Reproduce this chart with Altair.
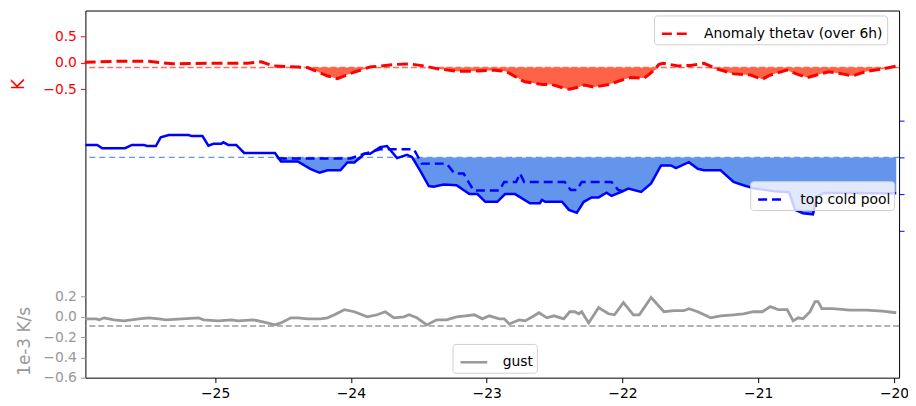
import altair as alt
import pandas as pd

FONT = "DejaVu Sans"
FS = 14
TFS = 17

# ---------------- data ----------------
# Anomaly thetav (over 6h), K
red_x = [-25.96, -25.71, -25.49, -25.39, -25.31, -25.05, -24.76, -24.66, -24.57, -24.39,
         -24.32, -24.17, -24.10, -23.99, -23.86, -23.66, -23.57, -23.46, -23.37, -23.22,
         -23.13, -22.94, -22.86, -22.72, -22.59, -22.52, -22.43, -22.39, -22.32, -22.28,
         -22.21, -22.10, -22.01, -21.94, -21.84, -21.79, -21.73, -21.70, -21.59, -21.50,
         -21.40, -21.30, -21.18, -21.06, -20.97, -20.91, -20.79, -20.72, -20.64, -20.57,
         -20.48, -20.38, -20.31, -20.20, -20.09, -19.98]
red_v = [0.01, 0.03, 0.03, 0.00, -0.02, -0.01, -0.01, 0.02, -0.06, -0.08,
         -0.09, -0.25, -0.30, -0.19, -0.08, -0.03, -0.02, -0.06, -0.11, -0.16,
         -0.16, -0.14, -0.16, -0.36, -0.41, -0.41, -0.48, -0.50, -0.46, -0.42,
         -0.46, -0.41, -0.33, -0.28, -0.29, -0.19, -0.03, -0.01, -0.06, -0.05,
         -0.01, -0.12, -0.21, -0.23, -0.31, -0.23, -0.14, -0.21, -0.28, -0.23,
         -0.17, -0.21, -0.25, -0.16, -0.12, -0.06]
red_thr = -0.09

# cold pool (solid) and top cold pool (dashed)
blue_x = [-25.955, -25.868, -25.831, -25.663, -25.612, -25.524, -25.502, -25.436, -25.400, -25.341,
          -25.195, -25.173, -25.093, -25.049, -25.012, -24.954, -24.939, -24.903, -24.844, -24.786,
          -24.559, -24.515, -24.391, -24.296, -24.230, -24.172, -24.077, -24.026, -23.974, -23.901,
          -23.858, -23.785, -23.734, -23.660, -23.587, -23.550, -23.492, -23.426, -23.390, -23.317,
          -23.222, -23.127, -23.068, -23.010, -22.922, -22.864, -22.791, -22.681, -22.608, -22.593,
          -22.569, -22.445, -22.394, -22.336, -22.285, -22.227, -22.176, -22.117, -22.081, -22.008,
          -21.957, -21.862, -21.789, -21.716, -21.643, -21.606, -21.511, -21.445, -21.401, -21.277,
          -21.182, -21.109, -21.028, -20.882, -20.773, -20.729, -20.670, -20.597, -20.568, -20.517,
          -20.298, -20.152, -19.984]
blue_v = [0.34, 0.34, 0.25, 0.25, 0.34, 0.34, 0.31, 0.31, 0.55, 0.61,
          0.61, 0.58, 0.58, 0.32, 0.37, 0.37, 0.41, 0.34, 0.34, 0.12,
          0.12, -0.11, -0.11, -0.32, -0.42, -0.35, -0.35, -0.14, -0.14, 0.10,
          0.10, 0.28, 0.31, -0.02, 0.07, 0.01, -0.35, -0.78, -0.80, -0.74,
          -0.76, -1.00, -1.00, -1.21, -1.21, -1.00, -1.00, -1.25, -1.25, -1.16,
          -1.21, -1.21, -1.43, -1.51, -1.21, -1.09, -1.09, -0.96, -1.05, -0.94,
          -0.85, -0.94, -0.71, -0.22, -0.22, -0.29, -0.13, -0.31, -0.35, -0.35,
          -0.67, -0.76, -0.85, -0.92, -0.95, -1.43, -1.52, -1.55, -1.07, -0.97,
          -0.97, -0.98, -0.98]
pool_x = [-24.537, -24.004, -23.901, -23.785, -23.536, -23.478, -23.295, -23.237, -23.170, -23.097,
          -22.907, -22.871, -22.783, -22.754, -22.724, -22.425, -22.381, -22.336, -22.300, -22.081,
          -22.030, -21.979]
pool_v = [-0.03, -0.03, 0.10, 0.22, 0.22, -0.17, -0.17, -0.44, -0.44, -0.90,
          -0.90, -0.67, -0.67, -0.44, -0.67, -0.67, -0.89, -0.89, -0.67, -0.67,
          -0.89, -0.94]
blue_base = 0.0

# gust, 1e-3 K/s
gust_x = [-25.955, -25.875, -25.853, -25.817, -25.744, -25.671, -25.561, -25.488, -25.414, -25.363,
          -25.122, -25.085, -24.976, -24.881, -24.830, -24.720, -24.647, -24.559, -24.515, -24.442,
          -24.391, -24.318, -24.223, -24.172, -24.121, -24.048, -23.974, -23.879, -23.806, -23.747,
          -23.682, -23.609, -23.572, -23.514, -23.441, -23.368, -23.295, -23.222, -23.156, -23.090,
          -23.032, -22.981, -22.907, -22.871, -22.834, -22.761, -22.717, -22.651, -22.615, -22.556,
          -22.505, -22.432, -22.388, -22.351, -22.322, -22.300, -22.249, -22.176, -22.103, -22.059,
          -21.993, -21.920, -21.876, -21.789, -21.694, -21.621, -21.548, -21.511, -21.445, -21.350,
          -21.277, -21.182, -21.109, -21.036, -20.970, -20.911, -20.852, -20.787, -20.743, -20.706,
          -20.670, -20.619, -20.582, -20.560, -20.531, -20.451, -20.327, -20.202, -20.086, -19.984]
gust_v = [-0.02, -0.02, -0.03, -0.01, -0.03, -0.04, -0.02, -0.01, -0.02, -0.03,
          -0.01, -0.03, -0.04, -0.03, -0.04, -0.03, -0.05, -0.08, -0.06, -0.01,
          -0.01, -0.02, -0.02, -0.01, 0.02, 0.07, 0.05, 0.00, 0.02, 0.05,
          -0.01, 0.00, 0.02, -0.01, -0.08, -0.03, -0.03, 0.00, 0.01, 0.02,
          -0.02, 0.01, -0.02, -0.02, -0.07, -0.03, -0.04, 0.01, 0.04, -0.01,
          0.01, -0.02, 0.05, 0.05, 0.03, 0.05, -0.06, 0.09, 0.03, 0.02,
          0.14, 0.02, 0.02, 0.19, 0.05, 0.06, 0.06, 0.08, 0.05, -0.01,
          0.01, 0.02, 0.03, 0.05, 0.05, 0.10, 0.07, 0.07, -0.04, -0.01,
          -0.02, 0.05, 0.15, 0.15, 0.08, 0.08, 0.065, 0.065, 0.055, 0.04]
gust_thr = -0.09

x_ticks = [-25, -24, -23, -22, -21, -20]
red_ticks = [-0.5, 0.0, 0.5]
blue_ticks = [-2, -1, 0, 1]
gray_ticks = [-0.6, -0.4, -0.2, 0.0, 0.2]

red_label = "Anomaly thetav (over 6h)"
pool_label = "top cold pool"
gust_label = "gust"

# ---------------- tables ----------------
red_df = pd.DataFrame({"x": red_x, "v": red_v, "s": red_label})
blue_df = pd.DataFrame({"x": blue_x, "v": blue_v})
pool_df = pd.DataFrame({"x": pool_x, "v": pool_v, "s": pool_label})
gust_df = pd.DataFrame({"x": gust_x, "v": gust_v, "s": gust_label})

xscale = alt.Scale(domain=[-25.955, -19.963], nice=False, zero=False)
X = alt.X("x:Q", scale=xscale,
          axis=alt.Axis(values=x_ticks, format="d", title=None, grid=False, domain=False,
                        tickColor="black", tickSize=5, labelColor="black", labelFont=FONT,
                        labelFontSize=FS, labelPadding=4))

red_scale = alt.Scale(domain=[-5.953, 0.988], nice=False, zero=False)
blue_scale = alt.Scale(domain=[-6, 4], nice=False, zero=False)
gray_scale = alt.Scale(domain=[-0.6, 3.02], nice=False, zero=False)

red_axis = alt.Axis(orient="left", values=red_ticks, format=".1f", grid=False, domain=False,
                    tickColor="red", tickSize=5, labelColor="red", labelFont=FONT,
                    labelFontSize=FS, labelPadding=4, title="K", titleColor="red",
                    titleFont=FONT, titleFontSize=TFS, titleFontWeight="normal",
                    titleAngle=270, titleBaseline="middle", titleX=-67, titleY=74)
blue_axis = alt.Axis(orient="right", values=blue_ticks, grid=False, domain=False,
                     tickColor="blue", tickSize=5, labels=False, title=None)
gray_axis = alt.Axis(orient="left", values=gray_ticks, format=".1f", grid=False, domain=False,
                     tickColor="#999999", tickSize=5, labelColor="#999999", labelFont=FONT,
                     labelFontSize=FS, labelPadding=4, title="1e-3 K/s", titleColor="#999999",
                     titleFont=FONT, titleFontSize=TFS, titleFontWeight="normal",
                     titleAngle=270, titleBaseline="middle", titleX=-61, titleY=333)


def legend(x, y, dash):
    kw = dict(orient="none", legendX=x, legendY=y, title=None, symbolType="stroke",
              symbolSize=729, symbolStrokeWidth=2.5, symbolOffset=3, labelFont=FONT,
              labelFontSize=FS, labelColor="black", labelOffset=14, labelLimit=0,
              fillColor="rgba(255,255,255,0.8)", strokeColor="#d0d0d0", cornerRadius=3,
              padding=3.5, zindex=1)
    if dash:
        kw["symbolDash"] = dash
    return alt.Legend(**kw)


# ---------------- red ----------------
rY = lambda f: alt.Y(f, scale=red_scale, axis=red_axis)
red_thr_df = pd.DataFrame({"t": [red_thr]})
red_rule = alt.Chart(red_thr_df).mark_rule(color="#ff6e5c", strokeWidth=1.5, strokeDash=[6, 3]).encode(y=rY("t:Q"))
red_area = alt.Chart(red_df).transform_calculate(
    lo=f"min(datum.v, {red_thr})", hi=f"{red_thr}"
).mark_area(color="#ff6347", opacity=1).encode(x=X, y=rY("lo:Q"), y2="hi:Q")
red_line = alt.Chart(red_df).mark_line(strokeWidth=3, strokeDash=[11, 5]).encode(
    x=X, y=rY("v:Q"),
    color=alt.Color("s:N", scale=alt.Scale(domain=[red_label], range=["red"]),
                    legend=legend(573, 5, [10, 5])))
red_layer = alt.layer(red_rule, red_area, red_line)

# ---------------- blue ----------------
bY = lambda f: alt.Y(f, scale=blue_scale, axis=blue_axis)
blue_base_df = pd.DataFrame({"t": [blue_base]})
blue_rule = alt.Chart(blue_base_df).mark_rule(color="#6495ed", strokeWidth=1.5, strokeDash=[6, 4]).encode(y=bY("t:Q"))
blue_area = alt.Chart(blue_df).transform_calculate(
    lo=f"min(datum.v, {blue_base})", hi=f"{blue_base}"
).mark_area(color="#6495ed", opacity=1).encode(x=X, y=bY("lo:Q"), y2="hi:Q")
blue_line = alt.Chart(blue_df).mark_line(color="blue", strokeWidth=2.5).encode(x=X, y=bY("v:Q"))
pool_line = alt.Chart(pool_df).mark_line(strokeWidth=2.5, strokeDash=[9, 5]).encode(
    x=X, y=bY("v:Q"),
    color=alt.Color("s:N", scale=alt.Scale(domain=[pool_label], range=["blue"]),
                    legend=legend(670, 172, [9, 5])))
blue_layer = alt.layer(blue_rule, blue_area, blue_line, pool_line)

# ---------------- gray ----------------
gY = lambda f: alt.Y(f, scale=gray_scale, axis=gray_axis)
gust_thr_df = pd.DataFrame({"t": [gust_thr]})
gray_rule = alt.Chart(gust_thr_df).mark_rule(color="#999999", strokeWidth=1.5, strokeDash=[6, 3]).encode(y=gY("t:Q"))
gust_line = alt.Chart(gust_df).mark_line(strokeWidth=2.8).encode(
    x=X, y=gY("v:Q"),
    color=alt.Color("s:N", scale=alt.Scale(domain=[gust_label], range=["#999999"]),
                    legend=legend(370, 336, None)))
gray_layer = alt.layer(gray_rule, gust_line)

chart = alt.layer(red_layer, blue_layer, gray_layer).resolve_scale(
    y="independent", color="independent"
).properties(
    width=820, height=370,
    autosize=alt.AutoSizeParams(type="none"),
    padding={"left": 78, "top": 1, "right": 9, "bottom": 25},
).configure_view(stroke="black", strokeWidth=1)

chart.save("out.html", embed_options={"renderer": "svg", "actions": False})
